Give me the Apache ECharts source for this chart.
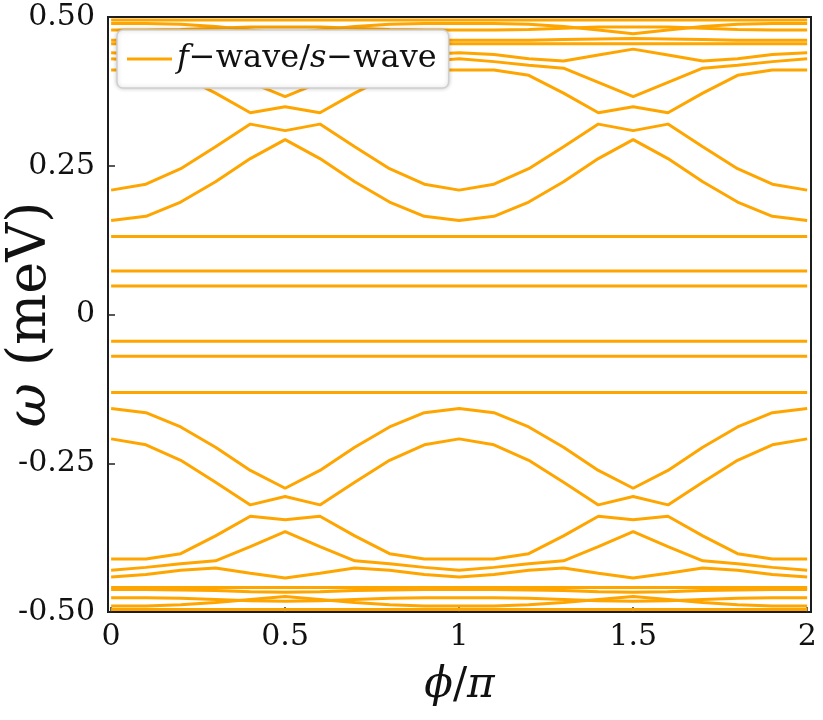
<!DOCTYPE html>
<html>
<head>
<meta charset="utf-8">
<title>f-wave / s-wave spectrum</title>
<script src="https://cdn.jsdelivr.net/npm/echarts@6/dist/echarts.min.js"></script>
<style>
  html, body { margin: 0; background: #fff; }
  #chart { width: 823px; height: 720px; }
</style>
</head>
<body>
<div id="chart"></div>
<script>
// phase phi / pi, sampled every 0.1
var phi = [0, 0.1, 0.2, 0.3, 0.4, 0.5, 0.6, 0.7, 0.8, 0.9, 1.0, 1.1, 1.2, 1.3, 1.4, 1.5, 1.6, 1.7, 1.8, 1.9, 2.0];

var xTicks = [0, 0.5, 1, 1.5, 2];
var xTickLabels = ['0', '0.5', '1', '1.5', '2'];
var yTicks = [-0.5, -0.25, 0, 0.25, 0.5];
var yTickLabels = ['-0.50', '-0.25', '0', '0.25', '0.50'];

var legendName = 'f\u2212wave/s\u2212wave';

// positive energies (meV)
var topFlat1 = [0.495, 0.495, 0.495, 0.495, 0.495, 0.495, 0.495, 0.495, 0.495, 0.495, 0.495, 0.495, 0.495, 0.495, 0.495, 0.495, 0.495, 0.495, 0.495, 0.495, 0.495];
var topBand2 = [0.489, 0.489, 0.488, 0.484, 0.478, 0.472, 0.478, 0.484, 0.488, 0.489, 0.489, 0.489, 0.488, 0.484, 0.478, 0.472, 0.478, 0.484, 0.488, 0.489, 0.489];
var topBand3 = [0.478, 0.478, 0.479, 0.481, 0.483, 0.483, 0.483, 0.481, 0.479, 0.478, 0.478, 0.478, 0.479, 0.481, 0.483, 0.483, 0.483, 0.481, 0.479, 0.478, 0.478];
var topBand4 = [0.461, 0.461, 0.461, 0.462, 0.463, 0.464, 0.463, 0.462, 0.461, 0.461, 0.461, 0.461, 0.461, 0.462, 0.463, 0.464, 0.463, 0.462, 0.461, 0.461, 0.461];
var topBand5 = [0.455, 0.455, 0.455, 0.455, 0.455, 0.455, 0.455, 0.455, 0.455, 0.455, 0.455, 0.455, 0.455, 0.455, 0.455, 0.455, 0.455, 0.455, 0.455, 0.455, 0.455];
var bandA = [0.440, 0.437, 0.430, 0.426, 0.436, 0.446, 0.436, 0.426, 0.430, 0.437, 0.440, 0.437, 0.430, 0.426, 0.436, 0.446, 0.436, 0.426, 0.430, 0.437, 0.440];
var bandB = [0.430, 0.425, 0.419, 0.414, 0.390, 0.366, 0.390, 0.414, 0.419, 0.425, 0.430, 0.425, 0.419, 0.414, 0.390, 0.366, 0.390, 0.414, 0.419, 0.425, 0.430];
var bandC = [0.411, 0.411, 0.402, 0.372, 0.339, 0.349, 0.339, 0.372, 0.402, 0.411, 0.411, 0.411, 0.402, 0.372, 0.339, 0.349, 0.339, 0.372, 0.402, 0.411, 0.411];
var bandD = [0.209, 0.219, 0.245, 0.282, 0.320, 0.309, 0.320, 0.282, 0.245, 0.219, 0.209, 0.219, 0.245, 0.282, 0.320, 0.309, 0.320, 0.282, 0.245, 0.219, 0.209];
var bandE = [0.158, 0.165, 0.189, 0.223, 0.262, 0.294, 0.262, 0.223, 0.189, 0.165, 0.158, 0.165, 0.189, 0.223, 0.262, 0.294, 0.262, 0.223, 0.189, 0.165, 0.158];
var flat1 = [0.131, 0.131, 0.131, 0.131, 0.131, 0.131, 0.131, 0.131, 0.131, 0.131, 0.131, 0.131, 0.131, 0.131, 0.131, 0.131, 0.131, 0.131, 0.131, 0.131, 0.131];
var flat2 = [0.073, 0.073, 0.073, 0.073, 0.073, 0.073, 0.073, 0.073, 0.073, 0.073, 0.073, 0.073, 0.073, 0.073, 0.073, 0.073, 0.073, 0.073, 0.073, 0.073, 0.073];
var flat3 = [0.048, 0.048, 0.048, 0.048, 0.048, 0.048, 0.048, 0.048, 0.048, 0.048, 0.048, 0.048, 0.048, 0.048, 0.048, 0.048, 0.048, 0.048, 0.048, 0.048, 0.048];

// negative energies (meV)
var negFlat3 = [-0.045, -0.045, -0.045, -0.045, -0.045, -0.045, -0.045, -0.045, -0.045, -0.045, -0.045, -0.045, -0.045, -0.045, -0.045, -0.045, -0.045, -0.045, -0.045, -0.045, -0.045];
var negFlat2 = [-0.070, -0.070, -0.070, -0.070, -0.070, -0.070, -0.070, -0.070, -0.070, -0.070, -0.070, -0.070, -0.070, -0.070, -0.070, -0.070, -0.070, -0.070, -0.070, -0.070, -0.070];
var negFlat1 = [-0.131, -0.131, -0.131, -0.131, -0.131, -0.131, -0.131, -0.131, -0.131, -0.131, -0.131, -0.131, -0.131, -0.131, -0.131, -0.131, -0.131, -0.131, -0.131, -0.131, -0.131];
var negBandE = [-0.158, -0.165, -0.189, -0.223, -0.262, -0.292, -0.262, -0.223, -0.189, -0.165, -0.158, -0.165, -0.189, -0.223, -0.262, -0.292, -0.262, -0.223, -0.189, -0.165, -0.158];
var negBandD = [-0.209, -0.219, -0.245, -0.282, -0.320, -0.306, -0.320, -0.282, -0.245, -0.219, -0.209, -0.219, -0.245, -0.282, -0.320, -0.306, -0.320, -0.282, -0.245, -0.219, -0.209];
var negBandC = [-0.411, -0.411, -0.402, -0.372, -0.339, -0.345, -0.339, -0.372, -0.402, -0.411, -0.411, -0.411, -0.402, -0.372, -0.339, -0.345, -0.339, -0.372, -0.402, -0.411, -0.411];
var negBandB = [-0.430, -0.425, -0.419, -0.414, -0.390, -0.365, -0.390, -0.414, -0.419, -0.425, -0.430, -0.425, -0.419, -0.414, -0.390, -0.365, -0.390, -0.414, -0.419, -0.425, -0.430];
var negBandA = [-0.441, -0.437, -0.430, -0.426, -0.435, -0.443, -0.435, -0.426, -0.430, -0.437, -0.441, -0.437, -0.430, -0.426, -0.435, -0.443, -0.435, -0.426, -0.430, -0.437, -0.441];
var negBand5 = [-0.459, -0.459, -0.459, -0.459, -0.459, -0.459, -0.459, -0.459, -0.459, -0.459, -0.459, -0.459, -0.459, -0.459, -0.459, -0.459, -0.459, -0.459, -0.459, -0.459, -0.459];
var negBand4 = [-0.462, -0.462, -0.463, -0.464, -0.466, -0.467, -0.466, -0.464, -0.463, -0.462, -0.462, -0.462, -0.463, -0.464, -0.466, -0.467, -0.466, -0.464, -0.463, -0.462, -0.462];
var negBand3 = [-0.476, -0.476, -0.477, -0.479, -0.481, -0.482, -0.481, -0.479, -0.477, -0.476, -0.476, -0.476, -0.477, -0.479, -0.481, -0.482, -0.481, -0.479, -0.477, -0.476, -0.476];
var negBand2 = [-0.490, -0.490, -0.488, -0.484, -0.479, -0.474, -0.479, -0.484, -0.488, -0.490, -0.490, -0.490, -0.488, -0.484, -0.479, -0.474, -0.479, -0.484, -0.488, -0.490, -0.490];
var negFlat0 = [-0.496, -0.496, -0.496, -0.496, -0.496, -0.496, -0.496, -0.496, -0.496, -0.496, -0.496, -0.496, -0.496, -0.496, -0.496, -0.496, -0.496, -0.496, -0.496, -0.496, -0.496];

var bands = [
  topFlat1, topBand2, topBand3, topBand4, topBand5, bandA, bandB, bandC, bandD, bandE,
  flat1, flat2, flat3, negFlat3, negFlat2, negFlat1,
  negBandE, negBandD, negBandC, negBandB, negBandA, negBand5, negBand4, negBand3, negBand2, negFlat0
];

(function () {
  'use strict';

  var ORANGE = '#FFA500';
  var SERIF = '"DejaVu Serif", "Liberation Serif", serif';

  var chart = echarts.init(document.getElementById('chart'), null, { renderer: 'canvas' });

  var series = bands.map(function (values) {
    return {
      name: legendName,
      type: 'line',
      data: values.map(function (v, i) { return [phi[i], v]; }),
      symbol: 'none',
      silent: true,
      lineStyle: { width: 3, color: ORANGE },
      itemStyle: { color: ORANGE },
      z: 2
    };
  });

  chart.setOption({
    animation: false,
    backgroundColor: '#fff',
    grid: {
      left: 108,
      right: 12,
      top: 17,
      bottom: 108,
      containLabel: false,
      outerBoundsMode: 'none',
      show: true,
      borderColor: '#1c1c1c',
      borderWidth: 2,
      backgroundColor: 'transparent'
    },
    legend: {
      data: [legendName],
      left: 117,
      top: 30,
      padding: [13, 12, 13, 10],
      icon: 'rect',
      itemWidth: 45,
      itemHeight: 3,
      backgroundColor: '#fff',
      borderColor: '#cfcfcf',
      borderWidth: 1.5,
      borderRadius: 6,
      shadowBlur: 4,
      shadowColor: 'rgba(0,0,0,0.2)',
      formatter: function () {
        return '{i|f}{n|\u2212wave/}{i|s}{n|\u2212wave}';
      },
      textStyle: {
        color: '#111',
        fontFamily: SERIF,
        fontSize: 32,
        rich: {
          i: { fontFamily: SERIF, fontSize: 32, fontStyle: 'italic', color: '#111' },
          n: { fontFamily: SERIF, fontSize: 32, color: '#111' }
        }
      }
    },
    xAxis: {
      type: 'value',
      min: -0.009,
      max: 2.011,
      name: '{i|\u03d5}{n|/}{i|\u03c0}',
      nameLocation: 'middle',
      nameGap: 53,
      nameMoveOverlap: false,
      nameTextStyle: {
        rich: {
          i: { fontFamily: SERIF, fontSize: 42, fontStyle: 'italic', color: '#111' },
          n: { fontFamily: SERIF, fontSize: 42, color: '#111' }
        }
      },
      axisLine: { show: false, onZero: false },
      axisTick: {
        inside: true,
        length: 5,
        customValues: xTicks,
        lineStyle: { color: '#333', width: 1.5 }
      },
      axisLabel: {
        customValues: xTicks,
        margin: 10,
        color: '#111',
        fontFamily: SERIF,
        fontSize: 30,
        formatter: function (v) {
          var k = xTicks.indexOf(v);
          return k >= 0 ? xTickLabels[k] : '';
        }
      },
      splitLine: { show: false }
    },
    yAxis: {
      type: 'value',
      min: -0.5,
      max: 0.5,
      interval: 0.25,
      name: '{i|\u03c9}{n| (meV)}',
      nameLocation: 'middle',
      nameRotate: 90,
      nameGap: 50,
      nameMoveOverlap: false,
      nameTextStyle: {
        rich: {
          i: { fontFamily: SERIF, fontSize: 54, fontStyle: 'italic', color: '#111' },
          n: { fontFamily: SERIF, fontSize: 54, color: '#111' }
        }
      },
      axisLine: { show: false, onZero: false },
      axisTick: {
        inside: true,
        length: 7,
        lineStyle: { color: '#222', width: 1.5 }
      },
      axisLabel: {
        margin: 13,
        color: '#111',
        fontFamily: SERIF,
        fontSize: 30,
        formatter: function (v) {
          var k = yTicks.indexOf(v);
          return k >= 0 ? yTickLabels[k] : '';
        }
      },
      splitLine: { show: false }
    },
    series: series
  });

  window.addEventListener('resize', function () {
    chart.resize();
  });
})();
</script>
</body>
</html>
